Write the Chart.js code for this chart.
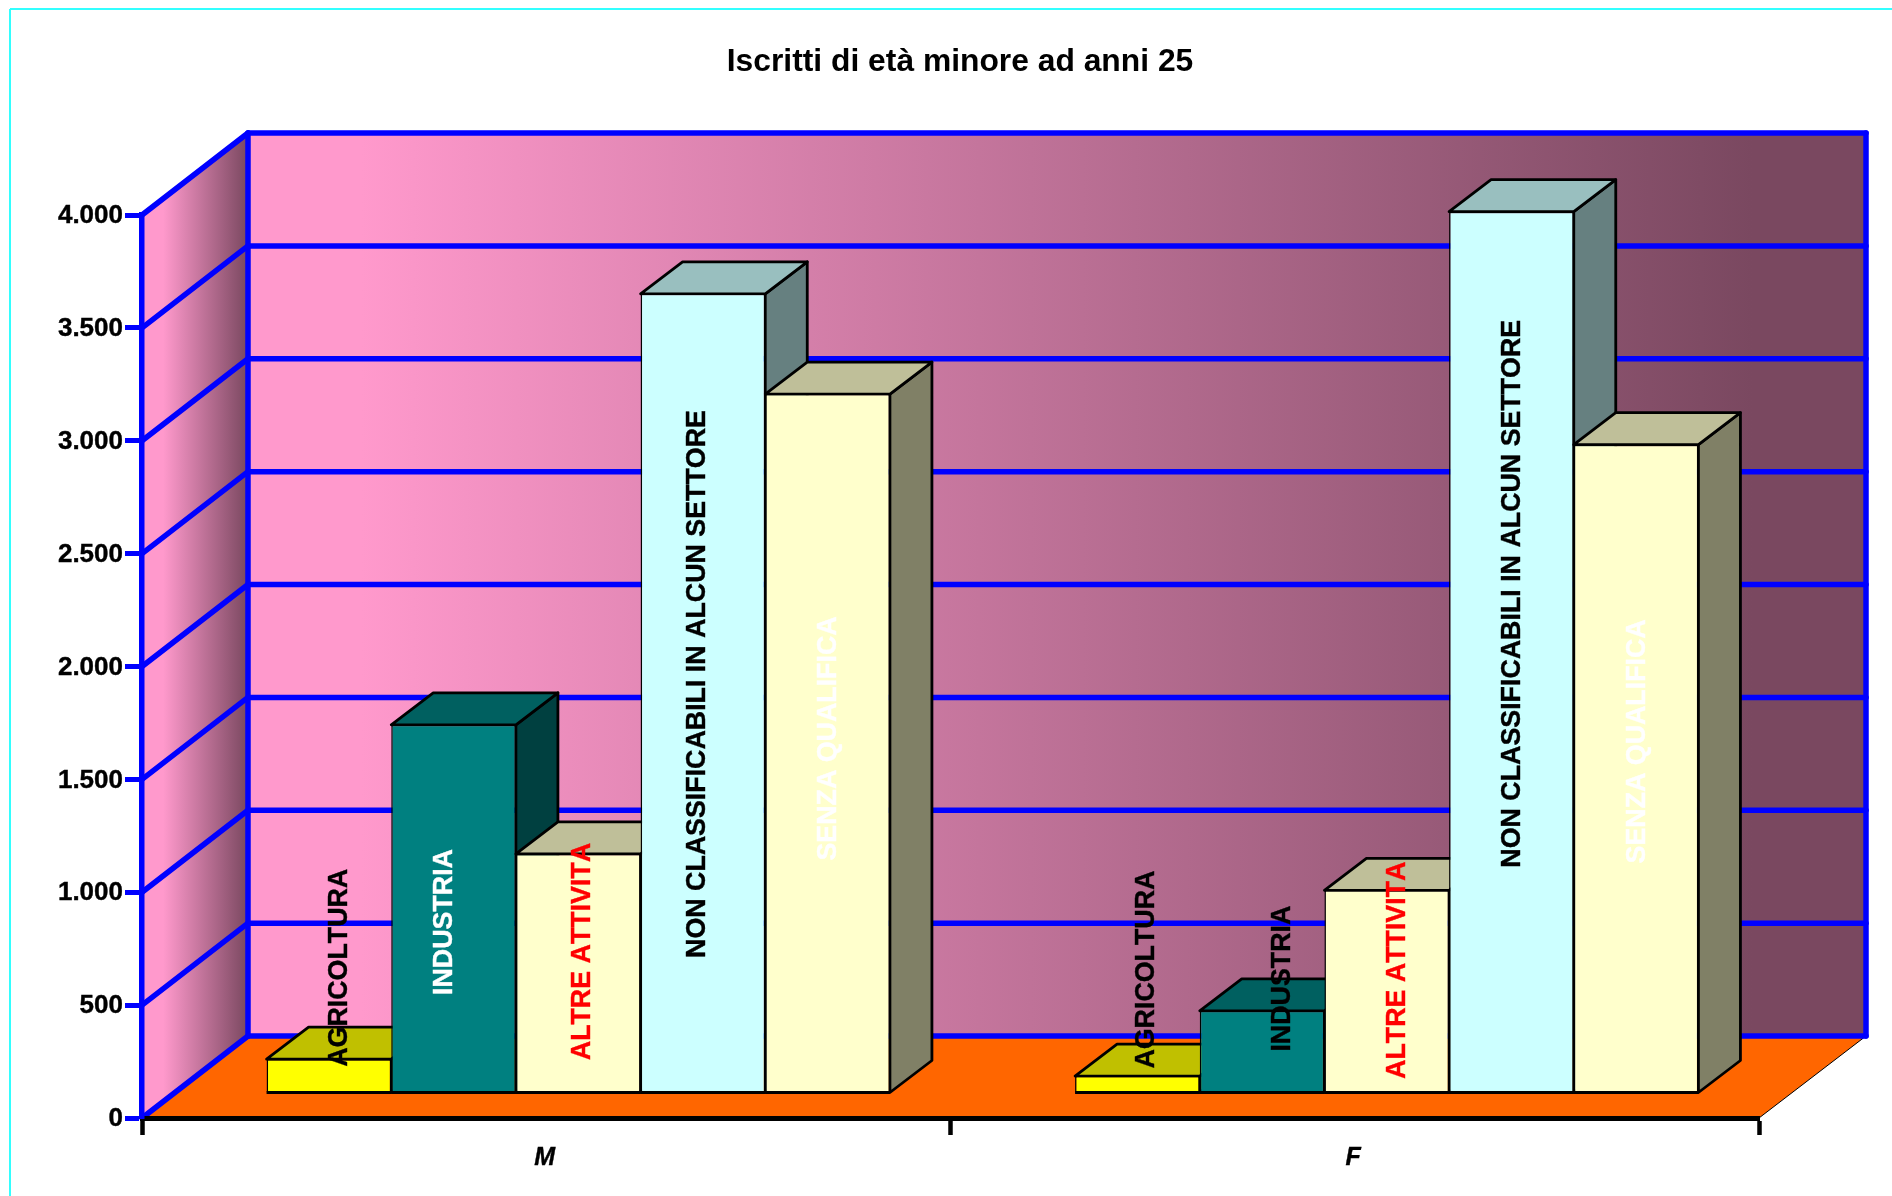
<!DOCTYPE html>
<html><head><meta charset="utf-8">
<style>html,body{margin:0;padding:0;background:#fff;overflow:hidden}canvas{display:block}</style>
<script src="https://cdn.jsdelivr.net/npm/chart.js@4"></script>
</head><body><canvas id="c" width="1892" height="1196"></canvas>
<script>
const titleText = 'Iscritti di età minore ad anni 25';
const categories = ['M', 'F'];
const seriesNames = ['AGRICOLTURA', 'INDUSTRIA', 'ALTRE ATTIVITA', 'NON CLASSIFICABILI IN ALCUN SETTORE', 'SENZA QUALIFICA'];
const agricoltura = [150, 75];
const industria = [1631, 364];
const altreAttivita = [1059, 898];
const nonClassificabili = [3540, 3904];
const senzaQualifica = [3096, 2872];
const yTickLabels = ['0', '500', '1.000', '1.500', '2.000', '2.500', '3.000', '3.500', '4.000'];

const FONT = '"Liberation Sans", Arial, sans-serif';
const WALL = {dx: 106, dy: -82, right: 1866};
const BAR_SHIFT = {x: 32, y: -25};
const LABEL_SHIFT_Y = -24;
const BAR_DEPTH = {x: 42, y: -32};
const palette = [
  {front: '#FFFF00', top: '#C0C000', side: '#808000', text: ['#000000', '#000000']},
  {front: '#008080', top: '#006060', side: '#004040', text: ['#FFFFFF', '#000000']},
  {front: '#FFFFCC', top: '#BFBF99', side: '#808066', text: ['#FF0000', '#FF0000']},
  {front: '#CCFFFF', top: '#99BFBF', side: '#668080', text: ['#000000', '#000000']},
  {front: '#FFFFCC', top: '#BFBF99', side: '#808066', text: ['#FFFFFF', '#FFFFFF']}
];
/* label placement: horizontal px offset from the bar centre, centre height in axis units */
const labelPlace = [
  [[11, 559], [9, 551]],
  [[-9, 762], [21, 511]],
  [[4, 631], [11, 548]],
  [[-5, 1816], [1, 2216]],
  [[1, 1575], [2, 1562]]
];

function poly(ctx, pts, fill, stroke, lw) {
  ctx.beginPath();
  pts.forEach((p, i) => i ? ctx.lineTo(p[0], p[1]) : ctx.moveTo(p[0], p[1]));
  ctx.closePath();
  if (fill) { ctx.fillStyle = fill; ctx.fill(); }
  if (stroke) { ctx.strokeStyle = stroke; ctx.lineWidth = lw; ctx.stroke(); }
}
function seg(ctx, x1, y1, x2, y2, color, lw) {
  ctx.beginPath(); ctx.moveTo(x1, y1); ctx.lineTo(x2, y2);
  ctx.strokeStyle = color; ctx.lineWidth = lw; ctx.stroke();
}

const room = {
  id: 'room',
  afterLayout(chart) {
    const t = chart.titleBlock;
    t.left = 0; t.right = 1920;
  },
  beforeDraw(chart) {
    const {ctx, scales: {y}} = chart;
    const L = chart.chartArea.left, R = chart.chartArea.right;
    const y0 = y.getPixelForValue(0), yMax = y.getPixelForValue(4000);
    const bL = L + WALL.dx, bR = WALL.right;
    ctx.fontKerning = 'none';
    ctx.save();
    ctx.fillStyle = '#fff'; ctx.fillRect(0, 0, chart.width, chart.height);
    seg(ctx, 10, 9, 1892, 9, '#33FFFF', 2);
    seg(ctx, 10, 9, 10, 1196, '#33FFFF', 2);
    const g = ctx.createLinearGradient(bL, 0, bR, 0);
    g.addColorStop(0, '#FF99CC'); g.addColorStop(0.07, '#FF99CC');
    g.addColorStop(0.93, '#7A4860'); g.addColorStop(1, '#7A4860');
    ctx.fillStyle = g; ctx.fillRect(bL, yMax + WALL.dy, bR - bL, y0 - yMax);
    const g2 = ctx.createLinearGradient(L, 0, bL, 0);
    g2.addColorStop(0, '#FF99CC'); g2.addColorStop(0.2, '#FF99CC'); g2.addColorStop(1, '#7A4860');
    poly(ctx, [[L, yMax], [bL, yMax + WALL.dy], [bL, y0 + WALL.dy], [L, y0]], g2);
    poly(ctx, [[L, y0], [bL, y0 + WALL.dy], [bR, y0 + WALL.dy], [R, y0]], '#FF6600');
    seg(ctx, R, y0, bR, y0 + WALL.dy, '#000', 1);
    ctx.lineCap = 'round';
    y.ticks.forEach(tk => {
      const p = y.getPixelForValue(tk.value);
      seg(ctx, bL, p + WALL.dy, bR, p + WALL.dy, '#0000FF', 5.5);
      seg(ctx, L, p, bL, p + WALL.dy, '#0000FF', 5.5);
    });
    seg(ctx, bL, yMax + WALL.dy, bL, y0 + WALL.dy, '#0000FF', 5.5);
    seg(ctx, bR, yMax + WALL.dy, bR, y0 + WALL.dy, '#0000FF', 5.5);
    ctx.restore();
  },
  /* paint the bars left to right, each with its 3D top and side, so that the next bar covers the previous side */
  beforeDatasetsDraw(chart) {
    const {ctx} = chart;
    ctx.save();
    ctx.translate(BAR_SHIFT.x, BAR_SHIFT.y);
    ctx.lineJoin = 'round';
    seriesNames.forEach((name, ds) => {
      const meta = chart.getDatasetMeta(ds);
      const c = palette[ds];
      meta.data.forEach(el => {
        const p = el.getProps(['x', 'y', 'base', 'width'], true);
        const l = p.x - p.width / 2, r = p.x + p.width / 2;
        const dx = BAR_DEPTH.x, dy = BAR_DEPTH.y;
        poly(ctx, [[r, p.y], [r + dx, p.y + dy], [r + dx, p.base + dy], [r, p.base]], c.side, '#000', 2.8);
        poly(ctx, [[l, p.y], [l + dx, p.y + dy], [r + dx, p.y + dy], [r, p.y]], c.top, '#000', 2.8);
      });
      meta.controller.draw();
      meta.data.forEach(el => {
        const p = el.getProps(['x', 'base', 'width'], true);
        seg(ctx, p.x - p.width / 2, p.base, p.x + p.width / 2, p.base, '#000', 3);
      });
    });
    ctx.restore();
  },
  beforeDatasetDraw() { return false; },
  afterDatasetsDraw(chart) {
    const {ctx, scales: {y}} = chart;
    ctx.save();
    ctx.font = 'bold 26.8px ' + FONT;
    ctx.textAlign = 'center';
    ctx.textBaseline = 'middle';
    ctx.lineWidth = 0.4;
    seriesNames.forEach((name, ds) => {
      chart.getDatasetMeta(ds).data.forEach((el, i) => {
        const [off, val] = labelPlace[ds][i];
        ctx.save();
        ctx.translate(el.x + BAR_SHIFT.x + off, y.getPixelForValue(val) + LABEL_SHIFT_Y);
        ctx.rotate(-Math.PI / 2);
        ctx.fillStyle = ctx.strokeStyle = palette[ds].text[i];
        ctx.fillText(name, 0, 0);
        ctx.strokeText(name, 0, 0);
        ctx.restore();
      });
    });
    ctx.restore();
  }
};

const seriesValues = [agricoltura, industria, altreAttivita, nonClassificabili, senzaQualifica];
new Chart(document.getElementById('c'), {
  type: 'bar',
  data: {
    labels: categories,
    datasets: seriesNames.map((name, i) => ({
      label: name,
      data: seriesValues[i],
      backgroundColor: palette[i].front,
      borderColor: '#000000',
      borderWidth: {top: 1.5, bottom: 1.5, left: 1.5, right: 1.5},
      borderSkipped: false,
      clip: false,
      categoryPercentage: 0.771,
      barPercentage: 1
    }))
  },
  plugins: [room],
  options: {
    responsive: false,
    animation: false,
    events: [],
    layout: {padding: {left: 0, right: 133, top: 0, bottom: 0}},
    plugins: {
      legend: {display: false},
      tooltip: {enabled: false},
      title: {
        display: true,
        text: titleText,
        color: '#000000',
        font: {family: FONT, size: 31.8, weight: 'bold', lineHeight: 1},
        padding: {top: 46.6, bottom: 136.6}
      }
    },
    scales: {
      x: {
        type: 'category',
        offset: true,
        afterFit(s) { s.height = 78; },
        border: {color: '#000000', width: 5},
        grid: {offset: true, drawOnChartArea: false, drawTicks: true, tickLength: 17, tickWidth: 4.5, tickColor: '#000000'},
        ticks: {color: '#000000', padding: 8, labelOffset: -1.5, maxRotation: 0, textStrokeColor: '#000000', textStrokeWidth: 0.4, font: {family: FONT, size: 25, weight: 'bold', style: 'italic'}}
      },
      y: {
        type: 'linear',
        min: 0, max: 4000,
        afterFit(s) { s.width = 142; },
        border: {color: '#0000FF', width: 5.5},
        grid: {drawOnChartArea: false, drawTicks: true, tickLength: 17, tickWidth: 5, tickColor: '#0000FF'},
        ticks: {
          stepSize: 500,
          color: '#000000',
          padding: 2,
          labelOffset: 1,
          textStrokeColor: '#000000',
          textStrokeWidth: 0.4,
          font: {family: FONT, size: 26, weight: 'bold'},
          callback: (v, i) => yTickLabels[i]
        }
      }
    }
  }
});
</script></body></html>
